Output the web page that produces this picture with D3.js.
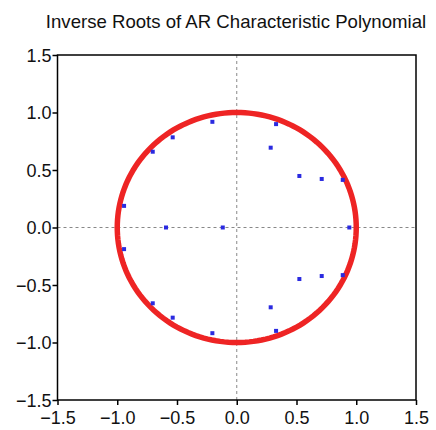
<!DOCTYPE html>
<html>
<head>
<meta charset="utf-8">
<script src="https://cdn.jsdelivr.net/npm/d3@7"></script>
<style>
  body { margin: 0; background: #fff; }
  svg { font-family: "Liberation Sans", Arial, sans-serif; }
</style>
</head>
<body>
<div id="chart-area"></div>
<script>
// inverse roots, upper half (conjugates are mirrored below)
const rootsRe = [-0.204, -0.536, -0.703, -0.943, 0.329, 0.284, 0.524, 0.711, 0.887]
const rootsIm = [0.919, 0.784, 0.659, 0.188, 0.899, 0.694, 0.448, 0.422, 0.414]
const realRoots = [-0.592, -0.117, 0.942]
const tickValues = [-1.5, -1.0, -0.5, 0.0, 0.5, 1.0, 1.5]

const W = 436, H = 430
const MARGIN = { LEFT: 57.5, RIGHT: 20, TOP: 55, BOTTOM: 30 }

const svg = d3.select("#chart-area").append("svg")
	.attr("width", W)
	.attr("height", H)

const x = d3.scaleLinear().domain([-1.5, 1.5]).range([MARGIN.LEFT, W - MARGIN.RIGHT])
const y = d3.scaleLinear().domain([-1.5, 1.5]).range([H - MARGIN.BOTTOM, MARGIN.TOP])

// title
svg.append("text")
	.attr("x", 236)
	.attr("y", 28)
	.attr("text-anchor", "middle")
	.attr("font-size", "18.6px")
	.attr("fill", "#111")
	.text("Inverse Roots of AR Characteristic Polynomial")

// zero lines
svg.append("line")
	.attr("x1", x(0)).attr("x2", x(0))
	.attr("y1", y(1.5)).attr("y2", y(-1.5))
	.attr("stroke", "#888").attr("stroke-dasharray", "3,3")
svg.append("line")
	.attr("x1", x(-1.5)).attr("x2", x(1.5))
	.attr("y1", y(0)).attr("y2", y(0))
	.attr("stroke", "#888").attr("stroke-dasharray", "3,3")

// unit circle
const circ = d3.range(0, 361, 2).map(a => [Math.cos(a * Math.PI / 180), Math.sin(a * Math.PI / 180)])
svg.append("path")
	.datum(circ)
	.attr("fill", "none")
	.attr("stroke", "#ee2424")
	.attr("stroke-width", 5.5)
	.attr("d", d3.line().x(d => x(d[0])).y(d => y(d[1])))

// roots
let pts = []
rootsRe.forEach((r, i) => {
	pts.push([r, rootsIm[i]])
	pts.push([r, -rootsIm[i]])
})
realRoots.forEach(r => pts.push([r, 0]))

svg.append("g").selectAll("rect")
	.data(pts)
	.enter().append("rect")
	.attr("x", d => x(d[0]) - 2)
	.attr("y", d => y(d[1]) - 2)
	.attr("width", 4)
	.attr("height", 4)
	.attr("fill", "#2a2ae0")

// frame
svg.append("rect")
	.attr("x", x(-1.5)).attr("y", y(1.5))
	.attr("width", x(1.5) - x(-1.5))
	.attr("height", y(-1.5) - y(1.5))
	.attr("fill", "none")
	.attr("stroke", "#000")
	.attr("stroke-width", 1.5)

// axes
const fmt = d3.format(".1f")
const xAxis = svg.append("g")
	.attr("transform", `translate(0, ${y(-1.5)})`)
	.call(d3.axisBottom(x).tickValues(tickValues).tickFormat(fmt).tickSize(5).tickSizeOuter(0))
const yAxis = svg.append("g")
	.attr("transform", `translate(${x(-1.5)}, 0)`)
	.call(d3.axisLeft(y).tickValues(tickValues).tickFormat(fmt).tickSize(5).tickSizeOuter(0))

svg.selectAll(".domain").remove()
svg.selectAll(".tick line").attr("stroke", "#000").attr("stroke-width", 1.5)
svg.selectAll(".tick text")
	.attr("font-family", "Liberation Sans, Arial, sans-serif")
	.attr("font-size", "18px")
	.attr("fill", "#111")
xAxis.selectAll(".tick text").attr("dy", "0.9em")
yAxis.selectAll(".tick text").attr("x", -6).attr("dy", "0.36em")
</script>
</body>
</html>
